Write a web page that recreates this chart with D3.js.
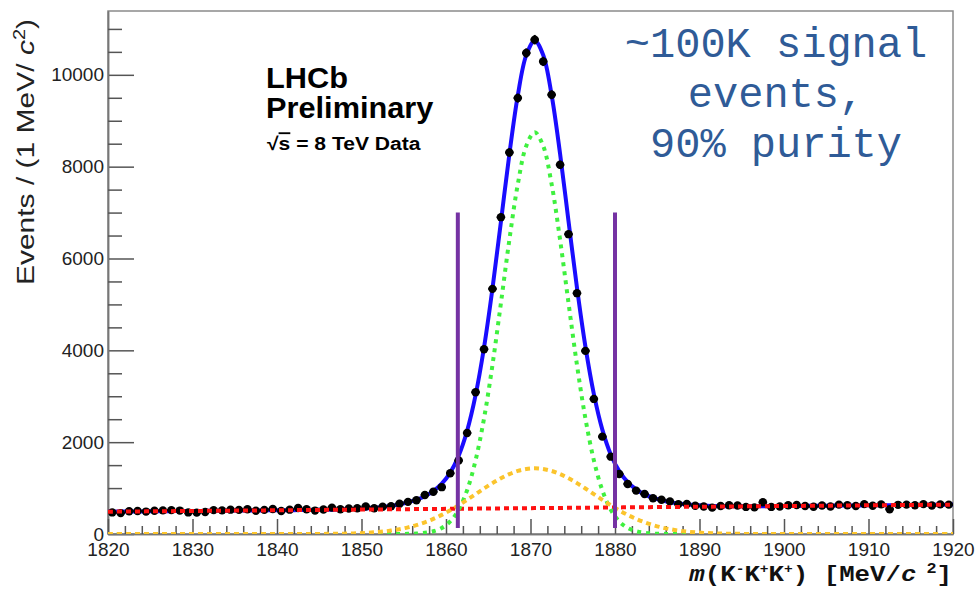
<!DOCTYPE html>
<html>
<head>
<meta charset="utf-8">
<script src="https://cdn.jsdelivr.net/npm/d3@7"></script>
<style>
  html, body { margin: 0; padding: 0; background: #fff; }
  svg { display: block; }
</style>
</head>
<body>
<svg id="chart" width="979" height="595"></svg>
<script>
// K-K+K+ invariant mass, 1 MeV/c^2 bins from 1820 to 1920 MeV/c^2
const binMass = d3.range(1820.5, 1920, 1);
const counts = [
  470, 455, 495, 500, 488, 505, 515, 520, 510, 470,
  465, 478, 520, 515, 530, 525, 540, 505, 525, 545,
  500, 530, 565, 540, 510, 535, 575, 540, 555, 560,
  600, 560, 595, 605, 660, 700, 735, 850, 920, 1020,
  1323, 1600, 2200, 3088, 4025, 5339, 6900, 8309, 9494, 10474,
  10765, 10292, 9566, 8040, 6530, 5245, 3988, 2942, 2120, 1684,
  1307, 1090, 945, 870, 780, 745, 710, 650, 655, 615,
  600, 575, 610, 625, 620, 590, 580, 690, 590, 600,
  625, 630, 610, 595, 620, 600, 640, 625, 610, 650,
  615, 645, 540, 635, 640, 625, 650, 620, 645, 640
];

// Fit components sampled at the bin centres around the peak
const peakMass = d3.range(1844.5, 1897, 1);
const narrowSignal = [
  0, 0, 0, 0, 0, 0, 0, 0, 0, 0,
  1, 4, 10, 25, 60, 132, 274, 529, 954, 1604,
  2516, 3682, 5029, 6408, 7619, 8452, 8750, 8452, 7619, 6408,
  5029, 3682, 2516, 1604, 954, 529, 274, 132, 60, 25,
  10, 4, 1, 0, 0, 0, 0, 0, 0, 0,
  0, 0, 0
];
const wideSignal = [
  1, 2, 4, 6, 10, 16, 24, 36, 52, 75,
  105, 144, 194, 255, 329, 416, 515, 626, 744, 867,
  991, 1108, 1214, 1305, 1373, 1415, 1430, 1415, 1373, 1305,
  1214, 1108, 991, 867, 744, 626, 515, 416, 329, 255,
  194, 144, 105, 75, 52, 36, 24, 16, 10, 6,
  4, 2, 1
];
// Linear combinatorial background, given at the range ends
const bkgMass = [1820, 1920];
const bkgLevel = [486, 640];

// Mass window used for the selection
const windowEdges = [1861.4, 1880.0];
const windowSpan = [130, 7000];

const yMajor = [0, 2000, 4000, 6000, 8000, 10000];
const yMinor = d3.range(500, 11400, 500).filter(v => v % 2000 !== 0);
const xMajor = [1820, 1830, 1840, 1850, 1860, 1870, 1880, 1890, 1900, 1910, 1920];
const xMinor = d3.range(1822, 1920, 2).filter(v => v % 10 !== 0);

const noteLines = ["~100K signal", "events,", "90% purity"];

// ---- layout ----
const L = 108, R = 953, T = 11, B = 534;
const svg = d3.select("#chart");

const x = d3.scaleLinear().domain([1820, 1920]).range([L, R]);
const y = d3.scaleLinear().domain([0, 11390]).range([B, T]);
const bkg = d3.scaleLinear().domain(bkgMass).range(bkgLevel);

const key = m => m.toFixed(1);
const narrowAt = new Map(peakMass.map((m, i) => [key(m), narrowSignal[i]]));
const wideAt = new Map(peakMass.map((m, i) => [key(m), wideSignal[i]]));

const fitMass = [1820, ...binMass, 1920];
const comp = fitMass.map(m => {
  const n = narrowAt.get(key(m)) || 0;
  const w = wideAt.get(key(m)) || 0;
  const b = bkg(m);
  return { m, n, w, b, total: n + w + b };
});

const defs = svg.append("defs");
defs.append("clipPath").attr("id", "plotClip")
  .append("rect").attr("x", L).attr("y", T).attr("width", R - L).attr("height", B - T);

// ---- frame ----
svg.append("rect")
  .attr("x", L).attr("y", T).attr("width", R - L).attr("height", B - T)
  .attr("fill", "none").attr("stroke", "#8a8a8a").attr("stroke-width", 1.5);

// ---- axes ----
const axisColor = "#555";
const gy = svg.append("g").attr("transform", `translate(${L},0)`)
  .call(d3.axisLeft(y).tickValues(yMajor).tickSize(-26).tickSizeOuter(0).tickPadding(4).tickFormat(d3.format("d")));
const gyMinor = svg.append("g").attr("transform", `translate(${L},0)`)
  .call(d3.axisLeft(y).tickValues(yMinor).tickSize(-14).tickSizeOuter(0).tickFormat(""));
const gx = svg.append("g").attr("transform", `translate(0,${B})`)
  .call(d3.axisBottom(x).tickValues(xMajor).tickSize(-15).tickSizeOuter(0).tickPadding(8.5).tickFormat(d3.format("d")));
const gxMinor = svg.append("g").attr("transform", `translate(0,${B})`)
  .call(d3.axisBottom(x).tickValues(xMinor).tickSize(-8).tickSizeOuter(0).tickFormat(""));

[gy, gyMinor, gx, gxMinor].forEach(g => {
  g.select(".domain").attr("stroke", "#777").attr("stroke-width", 1.5);
  g.selectAll(".tick line").attr("stroke", axisColor).attr("stroke-width", 1.5);
  g.selectAll(".tick text")
    .attr("fill", "#222")
    .style("font-family", "'Liberation Sans', Arial, sans-serif")
    .style("font-size", "19px");
});

// ---- axis titles ----
const yTitle = svg.append("text")
  .attr("transform", "translate(34,19) rotate(-90) scale(1,0.82)")
  .attr("text-anchor", "end")
  .attr("fill", "#222")
  .style("font-family", "'Liberation Sans', Arial, sans-serif")
  .style("font-size", "30px");
yTitle.append("tspan").text("Events / (1 MeV/ ");
yTitle.append("tspan").style("font-style", "italic").text("c");
yTitle.append("tspan").attr("dy", -11).style("font-size", "20px").text("2");
yTitle.append("tspan").attr("dy", 11).text(")");

const xTitle = svg.append("text")
  .attr("transform", "translate(952,581) scale(1.12,1)")
  .attr("text-anchor", "end")
  .attr("fill", "#111")
  .style("font-family", "'Liberation Mono', 'Courier New', monospace")
  .style("font-weight", "bold")
  .style("font-size", "23px");
xTitle.append("tspan").style("font-style", "italic").text("m");
xTitle.append("tspan").text("(K");
xTitle.append("tspan").attr("dy", -8).style("font-size", "13px").text("-");
xTitle.append("tspan").attr("dy", 8).text("K");
xTitle.append("tspan").attr("dy", -8).style("font-size", "13px").text("+");
xTitle.append("tspan").attr("dy", 8).text("K");
xTitle.append("tspan").attr("dy", -8).style("font-size", "13px").text("+");
xTitle.append("tspan").attr("dy", 8).text(") [MeV/");
xTitle.append("tspan").style("font-style", "italic").text("c");
xTitle.append("tspan").attr("dy", -8).style("font-size", "15px").text(" 2");
xTitle.append("tspan").attr("dy", 8).text("]");

// ---- plot contents ----
const plot = svg.append("g").attr("clip-path", "url(#plotClip)");

const curve = d3.curveCatmullRom.alpha(0.5);
const lineOf = acc => d3.line().x(d => x(d.m)).y(d => y(acc(d))).curve(curve);

// total fit
plot.append("path").datum(comp)
  .attr("d", lineOf(d => d.total))
  .attr("fill", "none").attr("stroke", "#1a0cff").attr("stroke-width", 4)
  .attr("stroke-linejoin", "round");

// data with statistical errors
const pts = plot.append("g").selectAll("g").data(binMass.map((m, i) => ({ m, c: counts[i] })))
  .join("g");
pts.append("line")
  .attr("x1", d => x(d.m)).attr("x2", d => x(d.m))
  .attr("y1", d => y(d.c - Math.sqrt(d.c))).attr("y2", d => y(d.c + Math.sqrt(d.c)))
  .attr("stroke", "#000").attr("stroke-width", 2);
pts.append("line")
  .attr("x1", d => x(d.m - 0.5)).attr("x2", d => x(d.m + 0.5))
  .attr("y1", d => y(d.c)).attr("y2", d => y(d.c))
  .attr("stroke", "#000").attr("stroke-width", 2);
pts.append("circle")
  .attr("cx", d => x(d.m)).attr("cy", d => y(d.c)).attr("r", 4.2)
  .attr("fill", "#000");

// components
plot.append("path").datum(comp)
  .attr("d", lineOf(d => d.b))
  .attr("fill", "none").attr("stroke", "#ff1010").attr("stroke-width", 4)
  .attr("stroke-dasharray", "5,4");
plot.append("path").datum(comp)
  .attr("d", lineOf(d => d.n))
  .attr("fill", "none").attr("stroke", "#3ff03f").attr("stroke-width", 4)
  .attr("stroke-dasharray", "4,5");
plot.append("path").datum(comp)
  .attr("d", lineOf(d => d.w))
  .attr("fill", "none").attr("stroke", "#fbc42c").attr("stroke-width", 4)
  .attr("stroke-dasharray", "5,4");

// selection window
svg.append("g").selectAll("line").data(windowEdges).join("line")
  .attr("x1", d => x(d)).attr("x2", d => x(d))
  .attr("y1", y(windowSpan[0])).attr("y2", y(windowSpan[1]))
  .attr("stroke", "#7532a3").attr("stroke-width", 4);

// ---- labels ----
const lhcb = svg.append("g")
  .attr("transform", "translate(266,0) scale(1.06,1)")
  .attr("fill", "#000")
  .style("font-family", "'Liberation Sans', Arial, sans-serif")
  .style("font-weight", "bold");
lhcb.append("text").attr("x", 0).attr("y", 88).style("font-size", "29px").text("LHCb");
lhcb.append("text").attr("x", 0).attr("y", 118).style("font-size", "29px").text("Preliminary");

const energy = svg.append("text")
  .attr("transform", "translate(267,150) scale(1.14,1)")
  .attr("fill", "#000")
  .style("font-family", "'Liberation Sans', Arial, sans-serif")
  .style("font-weight", "bold")
  .style("font-size", "18.5px");
energy.append("tspan").text("\u221A");
energy.append("tspan").style("text-decoration", "overline").text("s");
energy.append("tspan").text(" = 8 TeV Data");

svg.append("g").selectAll("text").data(noteLines).join("text")
  .attr("x", 776).attr("y", (d, i) => 57 + i * 50)
  .attr("text-anchor", "middle")
  .attr("fill", "#2f5b97")
  .style("font-family", "'Liberation Mono', 'Courier New', monospace")
  .style("font-size", "42px")
  .text(d => d);
</script>
</body>
</html>
